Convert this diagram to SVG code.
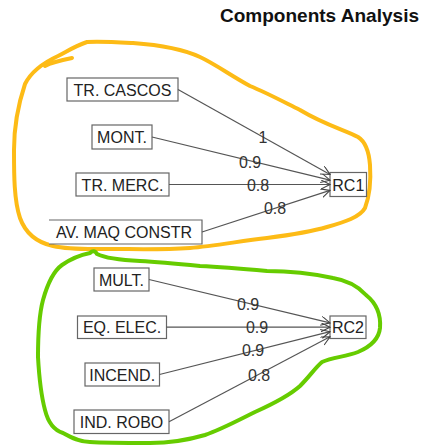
<svg xmlns="http://www.w3.org/2000/svg" width="424" height="446" viewBox="0 0 424 446">
<style>
.node rect, .node path{fill:#fff;stroke:#666;stroke-width:1.2}
.node text{font-family:"Liberation Sans",Arial,sans-serif;font-size:16px;fill:#222;text-anchor:middle}
.edge{stroke:#555;stroke-width:1.2;fill:none;marker-end:url(#arr)}
.lbl{font-family:"Liberation Sans",Arial,sans-serif;font-size:16px;fill:#333;text-anchor:middle}
.hand{fill:none;stroke-width:4;stroke-linecap:round;stroke-linejoin:round}
</style>
<defs>
<marker id="arr" markerUnits="userSpaceOnUse" markerWidth="12" markerHeight="12" refX="9" refY="4.5" orient="auto">
<path d="M0,0 L9,4.5 L0,9" fill="none" stroke="#444" stroke-width="1.1"/>
</marker>
</defs>
<rect width="424" height="446" fill="#fff"/>
<text x="220" y="22" font-family="'Liberation Sans',Arial,sans-serif" font-size="18.5" font-weight="bold" fill="#111" textLength="199" lengthAdjust="spacingAndGlyphs">Components Analysis</text>

<g id="outline-rc1">
<path class="hand" stroke="#FDBB16" d="M72,58 C62,60 52,62 45,66 M87,42 C75,46 66,52 58,56 C45,62 32,70 25,84 C18,105 14,130 14,150 C14,175 14,200 20,218 C25,232 35,242 53,246 C70,250 90,249 110,249 C135,249 160,250 190,248 C215,246 240,241 267,238 C290,235 310,232 327,227 C345,222 360,217 365,208 C370,195 371,180 370,165 C369,152 366,142 358,137 C345,130 325,125 300,110 C280,100 265,92 250,86 C230,75 215,64 200,57 C185,50 160,45 133,43 C115,42 98,41 87,42 Z"/>
</g>
<g id="outline-rc2">
<path class="hand" stroke="#66CC00" d="M97,254 C95,250 92,251 90,253 C80,255 72,258 62,265 C55,270 48,282 43,300 C39,315 38,335 38,357 C39,375 41,395 45,410 C48,422 53,430 63,433 C72,438 80,442 90,442 C105,443 125,443 150,443 C170,443 188,440 205,435 C220,430 235,422 255,412 C275,403 290,395 300,386 C310,376 315,368 322,362 C333,357 345,357 358,352 C372,346 379,338 380,328 C381,315 376,303 366,295 C358,286 345,280 333,278 C310,273 285,271 267,271 C245,269 222,267 200,266 C180,264 160,262 140,261 C120,260 105,258 97,254 Z"/>
</g>

<g id="node-tr-cascos" class="node"><rect x="67" y="78" width="111" height="23"/><text x="122.5" y="95.5">TR. CASCOS</text></g>
<g id="node-mont" class="node"><rect x="92" y="125" width="60" height="24"/><text x="122" y="143">MONT.</text></g>
<g id="node-tr-merc" class="node"><rect x="76" y="173" width="93" height="23"/><text x="122.5" y="190.5">TR. MERC.</text></g>
<g id="node-av-maq" class="node"><path d="M49,220 H202 V244 H49"/><text x="124" y="238">AV. MAQ CONSTR</text></g>
<g id="node-rc1" class="node"><rect x="330" y="172.5" width="36.5" height="24"/><text x="348.3" y="190.5">RC1</text></g>

<g id="node-mult" class="node"><rect x="94" y="268" width="55" height="23"/><text x="121.5" y="285.5">MULT.</text></g>
<g id="node-eq-elec" class="node"><rect x="77.5" y="316" width="89" height="22.5"/><text x="122" y="333">EQ. ELEC.</text></g>
<g id="node-incend" class="node"><rect x="85" y="363" width="74.5" height="23"/><text x="122.2" y="380.5">INCEND.</text></g>
<g id="node-ind-robo" class="node"><rect x="74" y="410" width="95" height="23.5"/><text x="121.5" y="427.8">IND. ROBO</text></g>
<g id="node-rc2" class="node"><rect x="330" y="316" width="36" height="22.5"/><text x="348" y="333.2">RC2</text></g>

<g id="connectors">
<line class="edge" x1="178" y1="89.5" x2="330" y2="174.5"/>
<line class="edge" x1="152" y1="137" x2="330" y2="180.2"/>
<line class="edge" x1="169" y1="184.5" x2="330" y2="184.5"/>
<line class="edge" x1="202" y1="232" x2="330" y2="190.4"/>
<line class="edge" x1="149" y1="279.5" x2="330" y2="322.9"/>
<line class="edge" x1="166.5" y1="327.2" x2="330" y2="327.2"/>
<line class="edge" x1="159.5" y1="374.5" x2="330" y2="331.7"/>
<line class="edge" x1="169" y1="421.8" x2="330" y2="336.8"/>
<text class="lbl" x="263" y="143">1</text>
<text class="lbl" x="250" y="167.5">0.9</text>
<text class="lbl" x="258" y="191">0.8</text>
<text class="lbl" x="275" y="214">0.8</text>
<text class="lbl" x="248" y="310">0.9</text>
<text class="lbl" x="257" y="333">0.9</text>
<text class="lbl" x="253" y="356">0.9</text>
<text class="lbl" x="259" y="381">0.8</text>
</g>
</svg>
